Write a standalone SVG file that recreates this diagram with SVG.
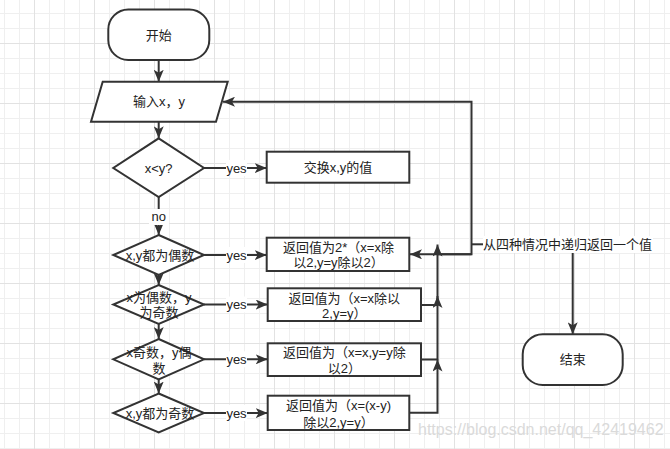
<svg xmlns="http://www.w3.org/2000/svg" width="670" height="449" viewBox="0 0 670 449">
<defs>
<pattern id="grid" patternUnits="userSpaceOnUse" x="34" y="43" width="60" height="60">
<path d="M15.5,0V60M30.5,0V60M45.5,0V60M0,15.5H60M0,30.5H60M0,45.5H60" stroke="#efefef" stroke-width="1" fill="none"/>
<path d="M0.5,0V60M0,0.5H60" stroke="#e2e2e2" stroke-width="1" fill="none"/>
</pattern>
<marker id="arr" viewBox="0 0 12 10" refX="12" refY="5" markerWidth="12" markerHeight="10" markerUnits="userSpaceOnUse" orient="auto">
<path d="M0,0 L12,5 L0,10 L3,5 z" fill="#333"/>
</marker>
</defs>
<style>
.shape{fill:#fff;stroke:#333;stroke-width:2}
.edge{fill:none;stroke:#333;stroke-width:2;marker-end:url(#arr)}
.line{fill:none;stroke:#333;stroke-width:2}
text{font-family:"Liberation Sans","Noto Sans CJK SC",sans-serif;font-size:13px;fill:#222;text-anchor:middle;dominant-baseline:central}
.lbg{fill:#fff}
</style>
<rect width="670" height="449" fill="#fff"/>
<rect width="670" height="449" fill="url(#grid)"/>

<g id="connectors">
<path class="edge" d="M158.7,60V81.7"/>
<path class="edge" d="M158.7,121.7V138.3"/>
<path class="edge" d="M204,168H266.7"/>
<path class="edge" d="M158.7,197V235"/>
<path class="edge" d="M204,255H266.7"/>
<path class="edge" d="M158.7,275V285"/>
<path class="edge" d="M204,304.5H267.7"/>
<path class="edge" d="M158.7,324V339"/>
<path class="edge" d="M204,359.3H267.7"/>
<path class="edge" d="M158.7,379.5V393.5"/>
<path class="edge" d="M204,413H267.7"/>
<path class="edge" d="M409.3,412.7H437.5V359.5"/>
<path class="edge" d="M421,359.5H437.5V296"/>
<path class="edge" d="M421,305H437.5V244.5"/>
<path class="edge" d="M471.5,254.3H410"/>
<path class="edge" d="M437.5,254.3H471.5V101.7H223"/>
<path class="line" d="M471.5,244.3H483"/>
<path class="edge" d="M572.7,252V334.3"/>
<rect class="lbg" x="226" y="160" width="21" height="16"/>
<text x="236.5" y="168">yes</text>
<rect class="lbg" x="226" y="247" width="21" height="16"/>
<text x="236.5" y="255">yes</text>
<rect class="lbg" x="226" y="296.5" width="21" height="16"/>
<text x="236.5" y="304.5">yes</text>
<rect class="lbg" x="226" y="351.3" width="21" height="16"/>
<text x="236.5" y="359.3">yes</text>
<rect class="lbg" x="226" y="405" width="21" height="16"/>
<text x="236.5" y="413">yes</text>
<rect class="lbg" x="149" y="209" width="20" height="16"/>
<text x="158.7" y="216.5">no</text>
<rect class="lbg" x="483" y="236" width="170" height="17"/>
<text x="567.5" y="244.3">从四种情况中递归返回一个值</text>
</g>

<g id="start">
<rect class="shape" x="108.3" y="9.5" width="101" height="50.5" rx="20" ry="20"/>
<text x="158.7" y="35">开始</text>
</g>
<g id="input">
<polygon class="shape" points="102.7,81.7 227.7,81.7 216,121.7 91,121.7"/>
<text x="159" y="101.7">输入x，y</text>
</g>
<g id="cond1">
<polygon class="shape" points="158.7,138.3 204,168 158.7,197 113.3,168"/>
<text x="158.7" y="168">x&lt;y?</text>
</g>
<g id="swap">
<rect class="shape" x="266.7" y="151.7" width="142.6" height="31"/>
<text x="338" y="167.2">交换x,y的值</text>
</g>
<g id="cond2">
<polygon class="shape" points="158.7,235 204,255 158.7,275 113.3,255"/>
<text x="160" y="255.5">x,y都为偶数</text>
</g>
<g id="ret1">
<rect class="shape" x="266.7" y="237.7" width="142.6" height="33.3"/>
<text x="338.5" y="247.5">返回值为2*（x=x除</text>
<text x="338.5" y="262">以2,y=y除以2）</text>
</g>
<g id="cond3">
<polygon class="shape" points="158.7,285 204,304.5 158.7,324 113.3,304.5"/>
<text x="159" y="297.5">x为偶数，y</text>
<text x="159" y="312.8">为奇数</text>
</g>
<g id="ret2">
<rect class="shape" x="267.7" y="288.3" width="153.3" height="32.7"/>
<text x="344.3" y="298.3">返回值为（x=x除以</text>
<text x="344.3" y="313.3">2,y=y）</text>
</g>
<g id="cond4">
<polygon class="shape" points="158.7,339 204,359.3 158.7,379.5 113.3,359.3"/>
<text x="159" y="352">x奇数，y偶</text>
<text x="159" y="368.3">数</text>
</g>
<g id="ret3">
<rect class="shape" x="267.7" y="343.3" width="153.3" height="32.7"/>
<text x="344.3" y="352.7">返回值为（x=x,y=y除</text>
<text x="344.3" y="368.3">以2）</text>
</g>
<g id="cond5">
<polygon class="shape" points="158.7,393.5 204,413 158.7,432.5 113.3,413"/>
<text x="160" y="413.5">x,y都为奇数</text>
</g>
<g id="ret4">
<rect class="shape" x="267.7" y="395.7" width="141.6" height="34.3"/>
<text x="338.5" y="405.7">返回值为（x=(x-y)</text>
<text x="338.5" y="422">除以2,y=y）</text>
</g>
<g id="end">
<rect class="shape" x="522.7" y="334.3" width="100" height="50.7" rx="20" ry="20"/>
<text x="572.7" y="359.7">结束</text>
</g>
<text x="418" y="434.5" style="text-anchor:start;dominant-baseline:auto;font-size:16px;fill:#dadada">https://blog.csdn.net/qq_42419462</text>
</svg>
